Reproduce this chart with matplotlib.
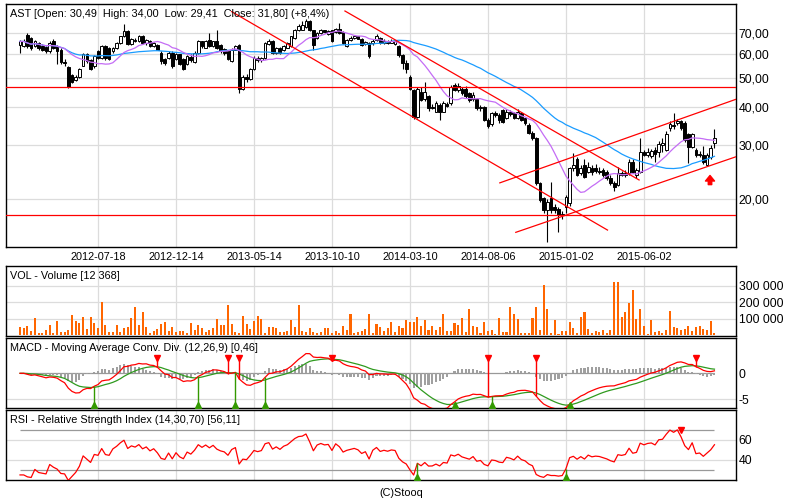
import numpy as np
import pandas as pd
import matplotlib
matplotlib.use("Agg")
import matplotlib.pyplot as plt
from matplotlib.patches import FancyArrowPatch
from matplotlib.transforms import blended_transform_factory
from matplotlib.ticker import NullLocator

plt.rcParams['font.family'] = ['Liberation Sans', 'DejaVu Sans']

# ---------------- data (weekly bars) ----------------
opens = [
    64.2, 63.5, 69.1, 67.5, 63.5, 65.0, 63.5, 63.0, 61.2, 66.0,
    63.5, 61.9, 56.5, 54.1, 51.0, 49.2, 50.2, 54.8, 59.7, 57.0,
    54.8, 61.2, 58.2, 63.5, 62.7, 61.0, 62.7, 65.0, 68.3, 71.0,
    64.5, 66.5, 66.0, 68.3, 65.0, 65.8, 63.5, 64.2, 60.4, 57.5,
    58.2, 60.4, 57.5, 59.7, 57.5, 55.5, 58.5, 56.2, 60.4, 65.8,
    62.7, 66.6, 63.5, 65.8, 64.2, 62.0, 61.2, 56.8, 61.9, 64.2,
    46.1, 50.4, 49.5, 53.5, 58.2, 57.0, 58.0, 64.5, 65.8, 60.4,
    62.7, 61.5, 62.7, 63.5, 67.5, 71.7, 72.0, 73.5, 77.0, 71.7,
    67.5, 70.0, 71.7, 69.5, 71.7, 70.5, 72.5, 70.5, 63.5, 66.6,
    67.5, 68.3, 67.2, 64.5, 65.0, 65.0, 66.5, 67.5, 65.0, 66.0,
    65.2, 64.5, 63.5, 59.4, 55.8, 50.4, 45.6, 37.3, 45.0, 42.5,
    43.4, 40.2, 38.7, 40.7, 38.7, 41.0, 41.2, 47.3, 45.6, 46.1,
    46.1, 44.5, 42.5, 42.5, 39.7, 40.2, 36.3, 35.2, 38.2, 37.7,
    39.2, 36.8, 38.7, 38.2, 36.8, 38.2, 36.8, 35.0, 33.0, 31.6,
    22.5, 20.1, 18.4, 20.1, 18.9, 18.5, 17.7, 18.9, 19.4, 25.2,
    27.0, 24.3, 25.9, 24.6, 25.2, 25.2, 24.8, 24.9, 24.6, 23.5,
    22.6, 22.2, 24.3, 24.0, 24.3, 26.5, 24.0, 24.6, 28.6, 28.0,
    27.6, 29.0, 28.6, 30.0, 29.0, 34.1, 35.0, 35.6, 36.0, 35.6,
    32.8, 29.7, 29.0, 27.9, 27.9, 25.9, 27.5, 30.49,
]
highs = [
    66.6, 66.8, 70.0, 68.0, 66.5, 65.5, 64.5, 63.8, 65.8, 66.8,
    64.0, 62.5, 57.5, 54.5, 51.5, 51.0, 54.0, 60.4, 60.5, 57.5,
    59.5, 61.8, 64.0, 64.0, 63.0, 63.2, 65.5, 68.8, 75.0, 71.5,
    67.5, 67.5, 69.0, 69.0, 67.0, 66.5, 65.5, 64.5, 61.0, 58.0,
    61.0, 61.0, 60.2, 60.0, 58.0, 59.5, 59.7, 61.0, 66.5, 66.0,
    66.5, 70.0, 66.2, 71.5, 64.5, 62.5, 61.5, 62.5, 64.0, 64.5,
    51.0, 51.5, 54.0, 59.0, 59.0, 58.5, 65.5, 66.8, 66.5, 63.0,
    63.0, 64.0, 65.5, 68.8, 72.5, 75.0, 76.5, 78.0, 77.5, 72.0,
    70.5, 72.5, 72.0, 71.5, 72.0, 73.0, 75.5, 71.0, 67.0, 68.3,
    69.0, 68.8, 67.5, 66.0, 65.5, 66.8, 69.5, 68.0, 66.8, 66.5,
    67.0, 66.5, 64.0, 60.0, 57.0, 51.0, 46.0, 46.5, 46.5, 48.6,
    44.0, 41.0, 41.8, 41.2, 41.8, 41.5, 47.5, 48.0, 48.0, 46.5,
    47.0, 45.0, 44.8, 43.0, 40.8, 40.5, 37.0, 38.5, 38.8, 38.2,
    39.6, 39.5, 39.2, 38.7, 39.5, 38.7, 37.0, 35.5, 33.4, 32.0,
    22.8, 20.3, 20.0, 22.7, 19.2, 18.8, 18.3, 20.6, 25.5, 28.3,
    27.5, 25.8, 27.0, 26.5, 25.8, 26.0, 25.5, 25.3, 24.9, 24.0,
    23.0, 25.5, 24.8, 24.9, 27.0, 27.0, 25.3, 31.6, 29.0, 29.3,
    29.2, 29.6, 31.0, 31.6, 33.4, 36.0, 38.2, 36.6, 36.3, 36.0,
    33.0, 33.0, 29.3, 28.8, 29.8, 28.3, 30.0, 34.00,
]
lows = [
    60.4, 63.0, 62.5, 61.5, 63.0, 61.5, 61.0, 60.5, 60.5, 62.0,
    55.5, 55.5, 54.5, 46.3, 48.0, 48.8, 50.0, 54.5, 56.0, 53.0,
    54.0, 57.8, 57.5, 57.0, 57.0, 60.5, 62.0, 64.5, 68.0, 64.0,
    64.0, 65.5, 65.5, 64.5, 64.0, 63.0, 63.0, 61.5, 55.5, 55.0,
    57.5, 54.0, 57.0, 55.0, 53.0, 55.0, 56.5, 56.0, 60.0, 62.8,
    62.5, 63.0, 63.0, 62.0, 60.5, 59.5, 57.0, 56.5, 61.5, 44.5,
    45.5, 48.5, 49.0, 53.0, 56.5, 56.5, 57.5, 64.0, 60.0, 60.0,
    60.0, 61.0, 62.5, 63.0, 67.0, 71.0, 71.5, 73.0, 71.0, 61.9,
    67.0, 69.5, 70.0, 69.0, 65.5, 70.0, 69.5, 64.5, 63.0, 66.0,
    67.0, 66.8, 63.8, 64.0, 58.0, 64.0, 66.0, 64.5, 64.5, 64.5,
    64.8, 64.0, 58.5, 53.5, 51.7, 45.5, 36.5, 37.0, 42.0, 42.0,
    39.0, 39.5, 38.5, 36.3, 38.5, 40.0, 40.8, 45.2, 45.0, 44.0,
    43.0, 41.5, 42.0, 39.2, 39.0, 36.0, 34.3, 34.8, 37.2, 35.5,
    35.5, 36.5, 37.5, 36.5, 36.5, 36.0, 35.0, 32.6, 31.2, 22.3,
    19.5, 18.0, 14.5, 18.0, 18.0, 15.6, 17.2, 17.95, 19.0, 24.8,
    23.8, 24.0, 23.4, 24.3, 24.0, 24.3, 24.2, 23.6, 23.1, 22.2,
    21.3, 22.0, 23.8, 23.7, 24.0, 24.3, 23.5, 24.3, 27.6, 27.5,
    27.3, 26.5, 27.5, 28.5, 28.8, 33.5, 34.0, 35.0, 33.7, 30.8,
    26.3, 29.3, 27.5, 27.5, 26.0, 25.6, 27.0, 29.41,
]
closes = [
    65.8, 65.8, 63.5, 62.7, 65.8, 62.7, 61.9, 61.2, 65.0, 62.7,
    61.0, 56.5, 56.0, 46.7, 48.5, 50.4, 53.5, 59.7, 56.8, 53.5,
    59.0, 58.2, 63.5, 58.2, 57.5, 62.7, 65.0, 68.3, 71.0, 64.5,
    67.0, 66.0, 68.3, 65.0, 66.6, 63.5, 65.2, 61.9, 56.8, 55.8,
    60.4, 54.8, 59.7, 55.5, 53.5, 59.0, 57.0, 60.4, 65.8, 63.5,
    65.8, 63.5, 65.8, 62.7, 61.2, 60.4, 57.5, 61.9, 63.5, 46.1,
    50.4, 49.7, 53.5, 58.2, 57.0, 58.0, 65.0, 66.2, 60.4, 62.7,
    60.4, 63.5, 65.0, 68.3, 71.7, 74.0, 74.5, 77.0, 71.7, 64.2,
    70.0, 71.7, 70.5, 71.0, 66.0, 72.5, 70.0, 65.0, 66.6, 67.5,
    68.3, 67.2, 64.2, 65.5, 59.0, 66.0, 68.5, 65.0, 66.0, 65.2,
    66.2, 65.8, 59.4, 55.8, 53.5, 46.1, 37.3, 46.1, 42.3, 45.0,
    39.7, 39.8, 41.2, 38.7, 41.2, 40.5, 46.7, 45.6, 47.0, 44.5,
    43.4, 42.3, 44.0, 39.7, 40.2, 36.3, 34.8, 38.2, 37.7, 36.3,
    35.9, 38.7, 38.0, 36.8, 38.7, 36.3, 35.4, 33.0, 31.6, 22.5,
    19.85, 18.4, 19.6, 18.4, 18.4, 17.7, 17.9, 20.35, 25.2, 25.9,
    24.0, 25.2, 23.7, 25.5, 24.5, 24.8, 24.6, 24.0, 23.4, 22.5,
    21.9, 24.3, 24.0, 24.3, 26.5, 24.6, 24.9, 28.6, 28.0, 28.6,
    28.8, 28.2, 30.3, 30.5, 32.8, 35.2, 34.6, 36.0, 34.1, 31.2,
    29.7, 32.8, 27.9, 28.2, 26.5, 27.9, 29.34, 31.80,
]
volume_k = [
    48, 42, 56, 28, 102, 16, 12, 32, 62, 16,
    86, 22, 22, 32, 122, 88, 72, 108, 38, 112,
    72, 42, 200, 62, 22, 22, 62, 22, 42, 52,
    106, 170, 62, 142, 52, 12, 28, 36, 68, 82,
    28, 52, 22, 28, 28, 12, 76, 32, 62, 42,
    22, 32, 42, 98, 62, 62, 182, 68, 22, 16,
    116, 66, 36, 88, 116, 96, 16, 52, 48, 42,
    22, 22, 28, 92, 52, 182, 28, 22, 42, 22,
    16, 22, 42, 42, 16, 28, 16, 56, 32, 128,
    16, 22, 28, 36, 128, 16, 68, 52, 28, 42,
    82, 22, 58, 42, 92, 82, 78, 108, 56, 92,
    32, 56, 32, 48, 128, 28, 28, 76, 62, 102,
    22, 156, 56, 52, 12, 82, 28, 32, 8, 106,
    22, 22, 172, 128, 96, 16, 12, 12, 102, 170,
    32, 302, 158, 12, 92, 8, 26, 28, 80, 42,
    16, 108, 138, 36, 12, 28, 22, 32, 12, 32,
    320, 320, 108, 138, 196, 272, 96, 156, 58, 8,
    92, 22, 28, 12, 32, 146, 48, 42, 32, 36,
    56, 26, 52, 56, 36, 32, 86, 12.368,
]
date_bar = [21, 42, 63, 84, 105, 126, 147, 168]
date_labels = ['2012-07-18', '2012-12-14', '2013-05-14', '2013-10-10',
               '2014-03-10', '2014-08-06', '2015-01-02', '2015-06-02']
price_ticks = [20, 30, 40, 50, 60, 70]
vol_ticks = [100000, 200000, 300000]
macd_ticks = [-5, 0]
rsi_ticks = [40, 60]
levels = [46.5, 17.68]
trend_lines = [  # (bar0, price0, bar1, price1)
    (57.0, 82.4, 158.2, 15.82),
    (87.5, 82.8, 166.7, 23.1),
    (129.2, 22.6, 192.8, 42.5),
    (133.5, 15.55, 192.8, 27.53),
]
arrow_bar, arrow_from, arrow_to = 185.8, 22.3, 23.9
macd_text = "MACD - Moving Average Conv. Div. (12,26,9) [0,46]"
rsi_text = "RSI - Relative Strength Index (14,30,70) [56,11]"

# ---------------- derived ----------------
o = np.array(opens); h = np.array(highs); l = np.array(lows); c = np.array(closes)
vol = np.array(volume_k) * 1000
n = len(c)
x = np.arange(n)
cs = pd.Series(c)
ma_s = cs.rolling(13, min_periods=1).mean().values
ma_l = cs.rolling(40, min_periods=1).mean().values
ema12 = cs.ewm(span=12, adjust=False).mean()
ema26 = cs.ewm(span=26, adjust=False).mean()
macd = (ema12 - ema26).values
sig = pd.Series(macd).ewm(span=9, adjust=False).mean().values
hist = macd - sig

# Wilder RSI(14), seeded with the average gain/loss of the first 14 changes
delta = np.diff(c, prepend=c[0])
gains = np.clip(delta, 0, None)
losses = np.clip(-delta, 0, None)
ag = gains[1:15].mean()
al = losses[1:15].mean()
rsi = np.zeros(n)
for i in range(n):
    ag = (ag * 13 + gains[i]) / 14
    al = (al * 13 + losses[i]) / 14
    rsi[i] = 100 - 100 / (1 + ag / al) if al > 0 else 100
RSI_WARMUP = 26

W, H = 800, 500
fig = plt.figure(figsize=(8, 5), dpi=100)
fig.patch.set_facecolor('white')

def axes_px(left, top, right, bottom):
    return fig.add_axes([left / W, 1 - bottom / H, (right - left) / W, (bottom - top) / H])

ax_p = axes_px(6, 4, 736, 247)
ax_v = axes_px(6, 266, 736, 336)
ax_m = axes_px(6, 338, 736, 408)
ax_r = axes_px(6, 410, 736, 480)

GRID = '#dcdcdc'
XL = (-3.77, 192.8)
for ax in (ax_p, ax_v, ax_m, ax_r):
    ax.set_xlim(*XL)
    ax.set_xticks([])
    ax.yaxis.tick_right()
    ax.tick_params(axis='y', length=0, pad=2, labelsize=8.8)
    for s in ax.spines.values():
        s.set_linewidth(1.0)
        s.set_color('black')
    for t in date_bar:
        ax.axvline(t, color=GRID, lw=0.9, zorder=0)

def fmt(v):
    return f"{v:.2f}".replace('.', ',')

# ---------------- price panel ----------------
ax_p.set_yscale('log')
ax_p.set_ylim(13.92, 87.3)
ax_p.yaxis.set_minor_locator(NullLocator())
ax_p.set_yticks(price_ticks)
ax_p.set_yticklabels([fmt(v) for v in price_ticks])
for v in price_ticks:
    ax_p.axhline(v, color=GRID, lw=0.9, zorder=0)

up = c >= o
body_bot = np.minimum(o, c)
body_h = np.maximum(np.abs(c - o), c * 0.004)
ax_p.vlines(x, l, h, color='black', lw=0.8, zorder=3)
ax_p.bar(x, body_h, bottom=body_bot, width=0.72,
         color=np.where(up, 'white', 'black'), edgecolor='black', linewidth=0.7, zorder=4)
ax_p.plot(x, ma_l, color='#1a9cff', lw=0.9, zorder=5)
ax_p.plot(x, ma_s, color='#c46cf5', lw=0.9, zorder=5)
for lv in levels:
    ax_p.axhline(lv, color='#ff0000', lw=0.9, zorder=6)
for (x0, y0, x1, y1) in trend_lines:
    ax_p.plot([x0, x1], [y0, y1], color='#ff0000', lw=0.9, zorder=6)
arr = FancyArrowPatch((arrow_bar, arrow_from), (arrow_bar, arrow_to),
                      arrowstyle='simple,head_width=0.65,head_length=0.4,tail_width=0.25',
                      mutation_scale=10, color='#ff0000', shrinkA=0, shrinkB=0, zorder=7)
ax_p.add_patch(arr)

pct = (c[-1] / c[-2] - 1) * 100
title = (f"AST [Open: {fmt(o[-1])}  High: {fmt(h[-1])}  Low: {fmt(l[-1])}  "
         f"Close: {fmt(c[-1])}] ({'+' if pct >= 0 else ''}" + f"{pct:.1f}".replace('.', ',') + "%)")

def ftext(px, py, s, **kw):
    fig.text(px / W, 1 - py / H, s, **kw)

FS = 7.8
ftext(10, 17.3, title, fontsize=FS, va='baseline', ha='left', zorder=10)
tr = blended_transform_factory(ax_p.transData, fig.transFigure)
for t, lab in zip(date_bar, date_labels):
    ax_p.text(t, 1 - 260 / H, lab, transform=tr, ha='center', va='baseline', fontsize=FS)

# ---------------- volume ----------------
ax_v.set_ylim(-5000, 419000)
ax_v.set_yticks(vol_ticks)
ax_v.set_yticklabels([f"{v:,}".replace(',', ' ') for v in vol_ticks])
for v in vol_ticks:
    ax_v.axhline(v, color=GRID, lw=0.9, zorder=0)
ax_v.bar(x, vol, width=0.55, color='#ff6600', zorder=3)
vol_last = f"{int(round(vol[-1])):,}".replace(',', ' ')
ftext(10, 279.3, f"VOL - Volume [{vol_last}]", fontsize=FS, va='baseline')

# ---------------- MACD ----------------
ax_m.set_ylim(-6.67, 6.79)
ax_m.set_yticks(macd_ticks)
ax_m.set_yticklabels([str(v) for v in macd_ticks])
ax_m.axhline(-5, color=GRID, lw=0.9, zorder=0)
ax_m.hlines(0, 0, n - 1, color='#999999', lw=0.9, zorder=1)
ax_m.bar(x, hist, width=0.55, color='#a0a0a0', zorder=2)
ax_m.plot(x, sig, color='#2f9a1e', lw=0.9, zorder=4)
ax_m.plot(x, macd, color='#ff0000', lw=0.9, zorder=5)
GREEN = '#339900'
for i in range(3, n):
    if hist[i - 1] < 0 <= hist[i]:
        ax_m.vlines(i, -6.0, macd[i], color=GREEN, lw=1.0, zorder=6)
        ax_m.plot(i, -6.0, marker='^', color=GREEN, ms=5, zorder=7)
    elif hist[i - 1] > 0 >= hist[i]:
        ax_m.vlines(i, macd[i], 3.0, color='#ff0000', lw=1.0, zorder=6)
        ax_m.plot(i, 3.0, marker='v', color='#ff0000', ms=5, zorder=7)
ftext(10, 350.7, macd_text, fontsize=FS, va='baseline')

# ---------------- RSI ----------------
ax_r.set_ylim(20, 90)
ax_r.set_yticks(rsi_ticks)
ax_r.set_yticklabels([str(v) for v in rsi_ticks])
for v in rsi_ticks:
    ax_r.axhline(v, color=GRID, lw=0.9, zorder=0)
for v in (30, 70):
    ax_r.hlines(v, 0, n - 1, color='#999999', lw=0.9, zorder=1)
ax_r.plot(x, rsi, color='#ff0000', lw=0.9, zorder=4)
for i in range(RSI_WARMUP, n):
    if rsi[i - 1] < 30 <= rsi[i]:
        ax_r.vlines(i, 23.3, rsi[i], color=GREEN, lw=1.0, zorder=6)
        ax_r.plot(i, 23.3, marker='^', color=GREEN, ms=5, zorder=7)
    elif rsi[i - 1] > 70 >= rsi[i]:
        ax_r.plot(i, 70.5, marker='v', color='#ff0000', ms=5, zorder=7)
ftext(10, 422.7, rsi_text, fontsize=FS, va='baseline')

ftext(401, 492.5, "(C)Stooq", fontsize=FS, ha='center', va='center')

fig.savefig('out.png', dpi=100, facecolor='white')
